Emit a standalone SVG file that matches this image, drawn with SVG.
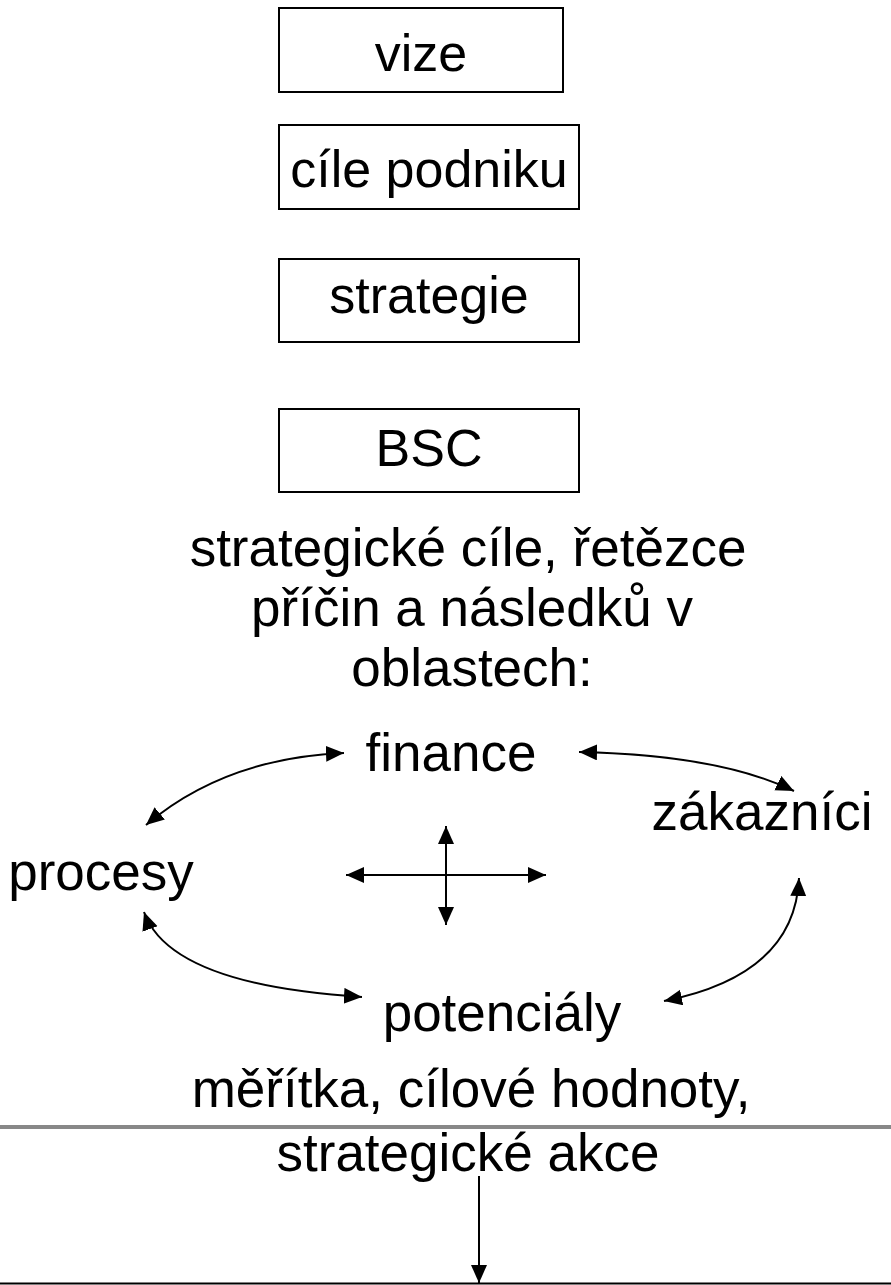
<svg xmlns="http://www.w3.org/2000/svg" width="891" height="1285" viewBox="0 0 891 1285">
<style>
text{font-family:"Liberation Sans",Arial,sans-serif;fill:#000;text-anchor:middle}
.b{font-size:52px}
.t{font-size:53px}
.box{fill:#fff;stroke:#000;stroke-width:2}
.c{fill:none;stroke:#000;stroke-width:2}
</style>
<defs>
<marker id="ah" markerUnits="userSpaceOnUse" markerWidth="20" markerHeight="18" refX="18" refY="8" orient="auto-start-reverse">
<path d="M0,0 L18,8 L0,16 z" fill="#000"/>
</marker>
</defs>
<rect width="891" height="1285" fill="#fff"/>
<g id="vize"><rect class="box" x="279" y="8" width="284" height="84"/><text class="b" x="421" y="71">vize</text></g>
<g id="cile"><rect class="box" x="279" y="125" width="300" height="84"/><text class="b" x="429" y="187">cíle podniku</text></g>
<g id="strategie"><rect class="box" x="279" y="259" width="300" height="83"/><text class="b" x="429" y="313">strategie</text></g>
<g id="bsc"><rect class="box" x="279" y="409" width="300" height="83"/><text class="b" x="429" y="466">BSC</text></g>
<g id="popis"><text class="t" x="468" y="566">strategické cíle, řetězce</text><text class="t" x="472" y="626">příčin a následků v</text><text class="t" x="472" y="686">oblastech:</text></g>
<g id="finance"><text class="t" x="451" y="771">finance</text></g>
<g id="zakaznici"><text class="t" x="762" y="830">zákazníci</text></g>
<g id="procesy"><text class="t" x="101" y="890">procesy</text></g>
<g id="potencialy"><text class="t" x="502" y="1031">potenciály</text></g>
<g id="meritka"><text class="t" x="471" y="1107">měřítka, cílové hodnoty,</text></g>
<g id="akce"><text class="t" x="468" y="1171">strategické akce</text></g>
<g id="connectors">
<path class="c" d="M344,753 Q225,758 146,825" marker-start="url(#ah)" marker-end="url(#ah)"/>
<path class="c" d="M579,752 Q720,755 794,791" marker-start="url(#ah)" marker-end="url(#ah)"/>
<path class="c" d="M799,878 Q795,975 664,1001" marker-start="url(#ah)" marker-end="url(#ah)"/>
<path class="c" d="M144,912 Q170,985 362,997" marker-start="url(#ah)" marker-end="url(#ah)"/>
<path class="c" d="M346,875 L546,875" marker-start="url(#ah)" marker-end="url(#ah)"/>
<path class="c" d="M446,826 L446,925" marker-start="url(#ah)" marker-end="url(#ah)"/>
<line x1="0" y1="1127" x2="891" y2="1127" stroke="#888" stroke-width="4"/>
<path class="c" d="M479,1176 L479,1283" marker-end="url(#ah)"/>
<line x1="0" y1="1283.5" x2="891" y2="1283.5" stroke="#000" stroke-width="2"/>
</g>
</svg>
